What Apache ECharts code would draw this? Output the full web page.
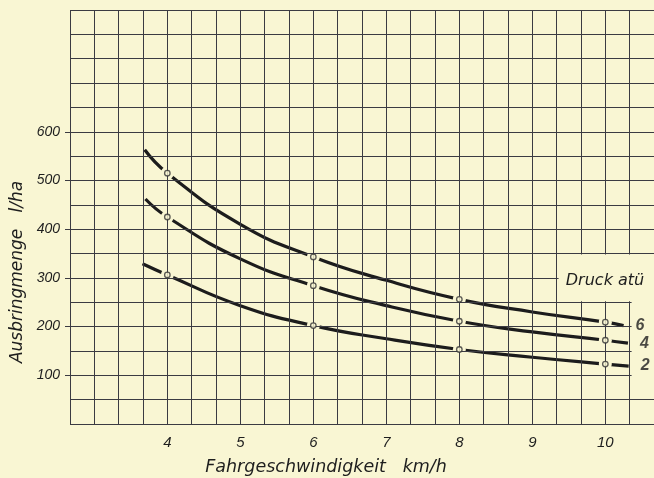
<!DOCTYPE html>
<html>
<head>
<meta charset="utf-8">
<script src="https://cdn.jsdelivr.net/npm/echarts@6/dist/echarts.min.js"></script>
<style>
html,body{margin:0;padding:0;background:#f9f6d3;}
#c{width:654px;height:478px;}
</style>
</head>
<body>
<div id="c"></div>
<script>
// ---- data ----
const xTickLabels = [4, 5, 6, 7, 8, 9, 10];
const yTickLabels = [100, 200, 300, 400, 500, 600];
const markerSpeeds = [4, 6, 8, 10];
const pressures = ['6', '4', '2'];

const speed6  = [3.69, 4, 5, 6, 7, 8, 9, 10, 10.25];
const amount6 = [563, 515, 410, 343, 295, 256, 230, 209, 202];
const speed4  = [3.70, 4, 5, 6, 7, 8, 9, 10, 10.31];
const amount4 = [462, 425, 339, 284, 243, 211, 189, 172, 166];
const speed2  = [3.66, 4, 5, 6, 7, 8, 9, 10, 10.32];
const amount2 = [329, 306, 243, 202, 175, 153, 137, 123, 119];

// regions of the paper where the grid is left blank (label boxes)
const blankRegions = [
  [9.36, 252, 10.8, 348],
  [10.36, 52, 10.8, 252]
];

const PAPER = '#f9f6d3';
const INK = '#1c1c1c';
const GRIDC = '#3b3b42';

const curves = [[speed6, amount6], [speed4, amount4], [speed2, amount2]];

const series = [];
curves.forEach(function (c, k) {
  const data = c[0].map(function (x, i) { return [x, c[1][i]]; });
  series.push({
    type: 'line',
    z: 2,
    yAxisIndex: 0,
    data: data,
    smooth: 0.5,
    showSymbol: true,
    symbol: 'circle',
    symbolSize: function (v) { return markerSpeeds.indexOf(v[0]) >= 0 ? 13 : 0; },
    itemStyle: { color: PAPER, borderWidth: 0 },
    lineStyle: { color: INK, width: 3.2, cap: 'butt' },
    silent: true,
    animation: false
  });
  series.push({
    type: 'scatter',
    z: 5,
    yAxisIndex: 0,
    data: data.filter(function (p) { return markerSpeeds.indexOf(p[0]) >= 0; }),
    symbol: 'circle',
    symbolSize: 5.5,
    itemStyle: { color: PAPER, borderColor: '#333', borderWidth: 1.3 },
    silent: true,
    animation: false
  });
});

// blank boxes above the grid
series.push({
  type: 'custom',
  z: 4,
  yAxisIndex: 0,
  silent: true,
  animation: false,
  data: blankRegions,
  renderItem: function (params, api) {
    const p1 = api.coord([api.value(0), api.value(3)]);
    const p2 = api.coord([api.value(2), api.value(1)]);
    return {
      type: 'rect',
      shape: { x: p1[0], y: p1[1], width: p2[0] - p1[0], height: p2[1] - p1[1] },
      style: { fill: PAPER }
    };
  },
  encode: { x: [0, 2], y: [1, 3] }
});

// curve end labels (pressure)
series.push({
  type: 'scatter',
  z: 6,
  yAxisIndex: 0,
  silent: true,
  animation: false,
  symbolSize: 0,
  data: curves.map(function (c, k) {
    const n = c[0].length - 1;
    return { value: [c[0][n], c[1][n]], name: pressures[k] };
  }),
  label: {
    show: true,
    position: 'right',
    distance: 12,
    formatter: function (p) { return p.name; },
    color: '#1e1e1e',
    fontFamily: 'Liberation Sans',
    fontStyle: 'italic',
    fontWeight: 'bold',
    fontSize: 16
  }
});

const chart = echarts.init(document.getElementById('c'), null, { renderer: 'canvas' });
chart.setOption({
  backgroundColor: PAPER,
  animation: false,
  grid: { left: 70, right: -2, top: 10, bottom: 54, containLabel: false },
  xAxis: {
    type: 'value',
    z: 3,
    min: 8 / 3,
    max: 32 / 3,
    interval: 1 / 3,
    axisLine: { show: false },
    axisTick: { show: false },
    splitLine: { show: true, showMinLine: true, showMaxLine: true, lineStyle: { color: GRIDC, width: 1 } },
    axisLabel: {
      customValues: xTickLabels,
      margin: 11,
      color: '#1e1e1e',
      fontFamily: 'Liberation Sans',
      fontStyle: 'italic',
      fontSize: 15,
      formatter: function (v) { return String(Math.round(v)); }
    }
  },
  yAxis: [
    {
      type: 'value',
      z: 3,
      min: 0,
      max: 850,
      interval: 50,
      axisLine: { show: false },
      axisTick: { show: false },
      axisLabel: { show: false },
      splitLine: { show: true, showMinLine: true, showMaxLine: true, lineStyle: { color: GRIDC, width: 1 } }
    },
    {
      type: 'value',
      position: 'left',
      z: 3,
      min: 0,
      max: 850,
      interval: 100,
      axisLine: { show: false },
      splitLine: { show: false },
      axisTick: { show: true, customValues: yTickLabels, length: 5, inside: false, lineStyle: { color: GRIDC, width: 1 } },
      axisLabel: {
        customValues: yTickLabels,
        margin: 10,
        color: '#1e1e1e',
        fontFamily: 'Liberation Sans',
        fontStyle: 'italic',
        fontSize: 14
      }
    }
  ],
  graphic: [
    {
      type: 'text', x: 18, y: 272, rotation: Math.PI / 2, z: 10,
      style: { text: 'Ausbringmenge   l/ha', font: 'italic 17px "DejaVu Sans"', fill: '#1e1e1e',
               align: 'center', verticalAlign: 'middle', textAlign: 'center', textVerticalAlign: 'middle' }
    },
    {
      type: 'text', x: 326, y: 467, z: 10,
      style: { text: 'Fahrgeschwindigkeit   km/h', font: 'italic 17.5px "DejaVu Sans"', fill: '#1e1e1e',
               align: 'center', verticalAlign: 'middle', textAlign: 'center', textVerticalAlign: 'middle' }
    },
    {
      type: 'text', x: 605, y: 281, z: 10,
      style: { text: 'Druck atü', font: 'italic 16px "DejaVu Sans"', fill: '#1e1e1e',
               align: 'center', verticalAlign: 'middle', textAlign: 'center', textVerticalAlign: 'middle' }
    }
  ],
  series: series
});
</script>
</body>
</html>
